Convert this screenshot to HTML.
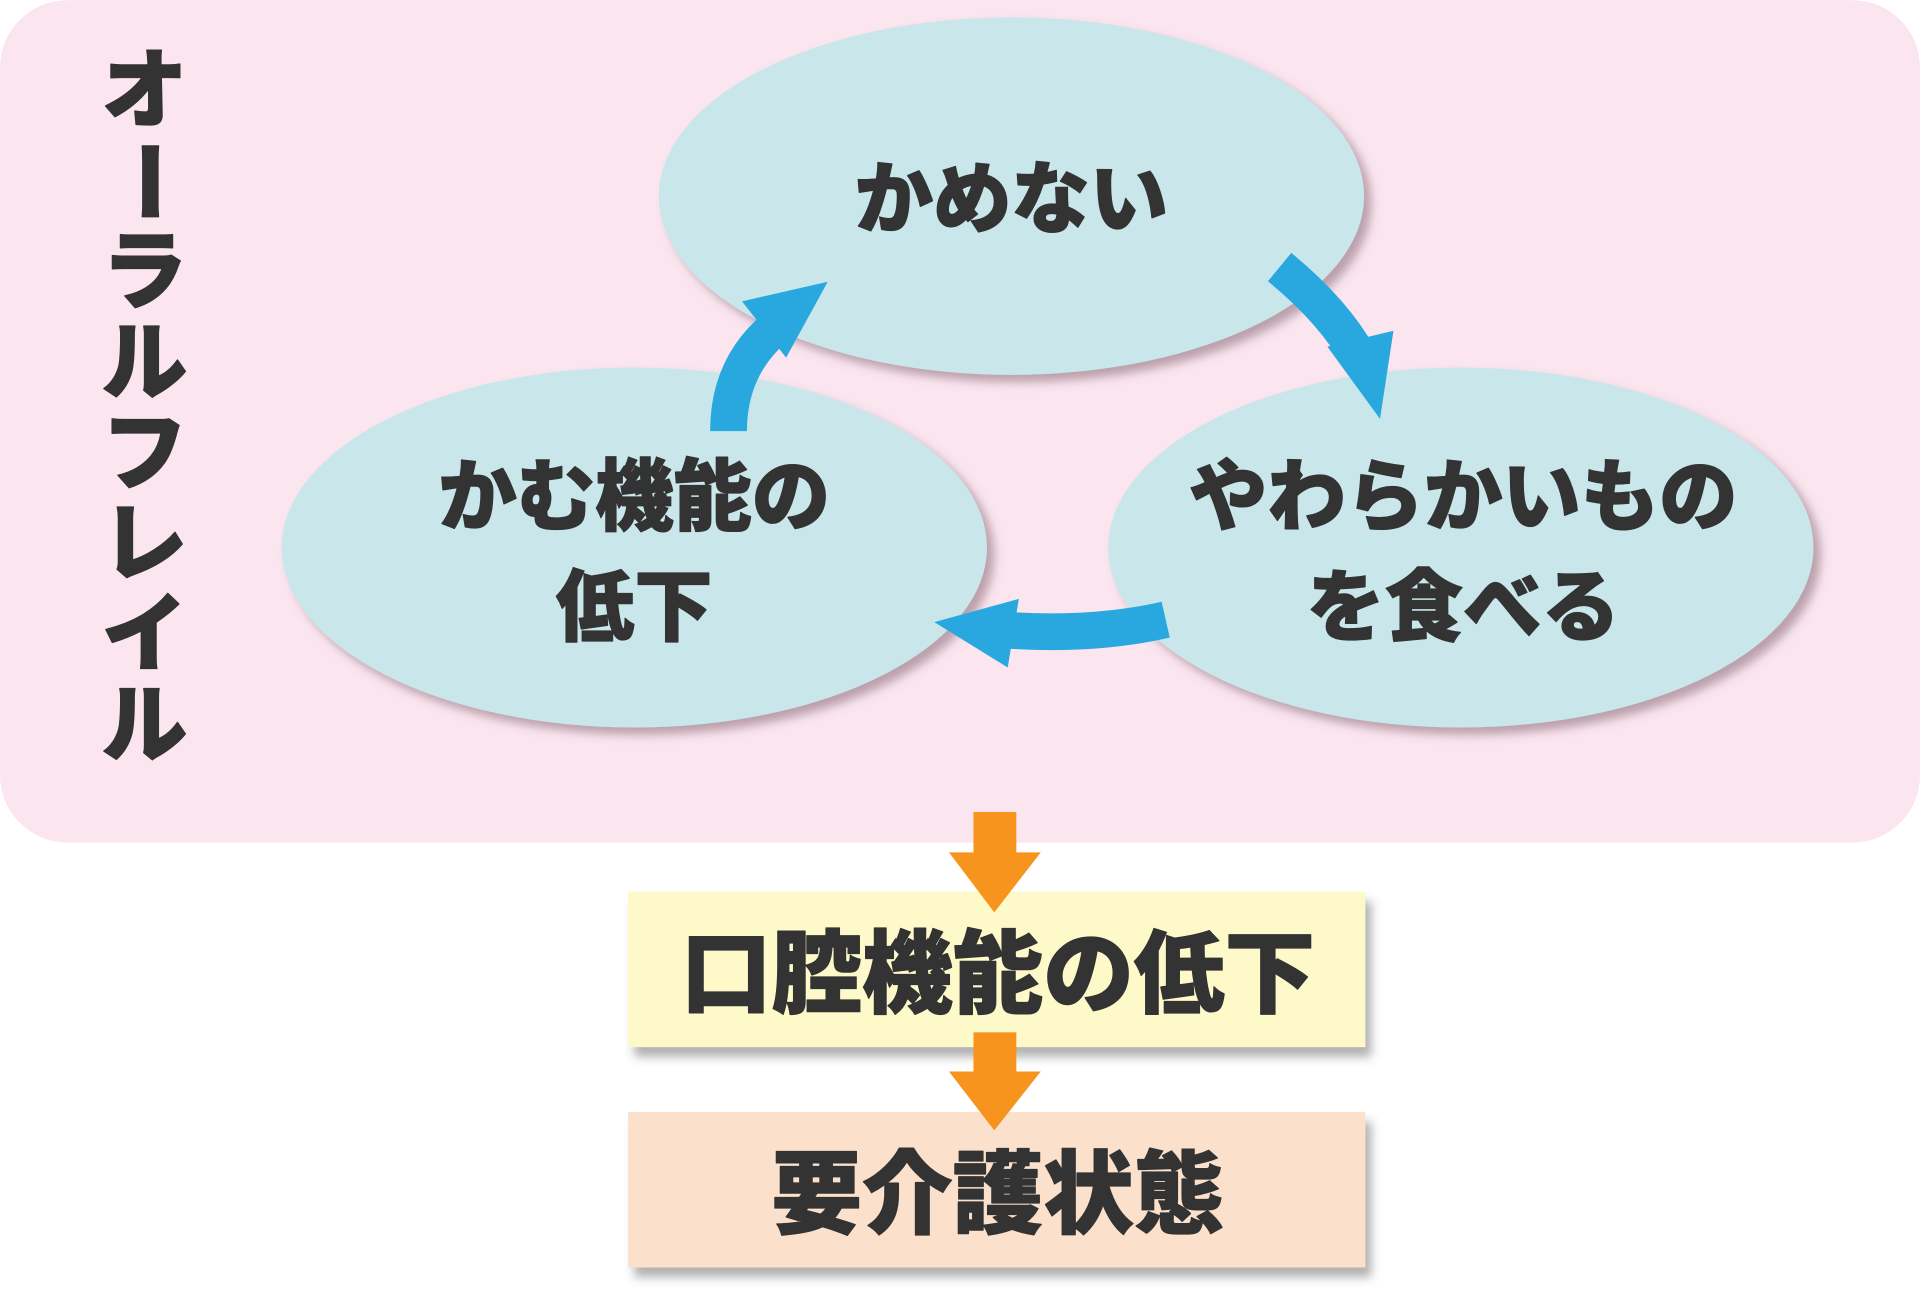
<!DOCTYPE html>
<html><head><meta charset="utf-8">
<style>
html,body{margin:0;padding:0;background:#fff;}
svg{display:block;}
text{font-family:"Liberation Sans","Noto Sans CJK JP",sans-serif;font-weight:900;fill:#333;stroke:#333;stroke-width:1;stroke-linejoin:round;}
</style></head>
<body>
<svg width="1920" height="1308" viewBox="0 0 1568 1068" xmlns="http://www.w3.org/2000/svg">
<defs>
<filter id="sh" x="-20%" y="-20%" width="140%" height="140%">
<feDropShadow dx="6" dy="6" stdDeviation="4" flood-color="#7a5a66" flood-opacity="0.5"/>
</filter>
<filter id="sh2" x="-20%" y="-20%" width="140%" height="140%">
<feDropShadow dx="5" dy="8" stdDeviation="4" flood-color="#555" flood-opacity="0.45"/>
</filter>
</defs>
<rect x="0" y="0" width="1568" height="688" rx="55" fill="#fbe6ef"/>
<ellipse cx="826" cy="160" rx="288" ry="146" fill="#c9e7ea" filter="url(#sh)"/>
<ellipse cx="518" cy="447" rx="288" ry="147" fill="#c9e7ea" filter="url(#sh)"/>
<ellipse cx="1193" cy="447" rx="288" ry="147" fill="#c9e7ea" filter="url(#sh)"/>

<text x="826" y="185" font-size="64" text-anchor="middle">かめない</text>
<text x="518" y="428" font-size="64" text-anchor="middle">かむ機能の</text>
<text x="518" y="518" font-size="64" text-anchor="middle">低下</text>
<text x="1195" y="428" font-size="64" text-anchor="middle">やわらかいもの</text>
<text x="1195" y="518" font-size="64" text-anchor="middle">を食べる</text>

<g font-size="70">
<text x="118" y="98" text-anchor="middle">オ</text>
<text x="118" y="170" text-anchor="middle" transform="rotate(90 118 148)">ー</text>
<text x="118" y="246" text-anchor="middle">ラ</text>
<text x="118" y="320" text-anchor="middle">ル</text>
<text x="118" y="394" text-anchor="middle">フ</text>
<text x="118" y="468" text-anchor="middle">レ</text>
<text x="118" y="542" text-anchor="middle">イ</text>
<text x="118" y="616" text-anchor="middle">ル</text>
</g>

<g fill="none" stroke="#29a8e0" stroke-width="30">
<path d="M595,352 Q595,295 640,262"/>
<path d="M1045,218 Q1090,255 1110,292"/>
<path d="M952,506 Q890,520 815,514"/>
</g>
<g fill="#29a8e0">
<polygon points="676,230 606,246 642,292"/>
<polygon points="1127,342 1084,283 1138,270"/>
<polygon points="763,508 832,489 823,545"/>
</g>

<rect x="513" y="728" width="602" height="127" fill="#fdf9c8" filter="url(#sh2)"/>
<rect x="513" y="908" width="602" height="127" fill="#fbe0cb" filter="url(#sh2)"/>
<text x="815" y="821" font-size="74" text-anchor="middle">口腔機能の低下</text>
<text x="815" y="1001" font-size="74" text-anchor="middle">要介護状態</text>

<g fill="#f7941d">
<rect x="795" y="663" width="35" height="35"/>
<polygon points="775,696 850,696 812,745"/>
<rect x="795" y="843" width="35" height="33"/>
<polygon points="775,875 850,875 812,923"/>
</g>
</svg>
</body></html>
